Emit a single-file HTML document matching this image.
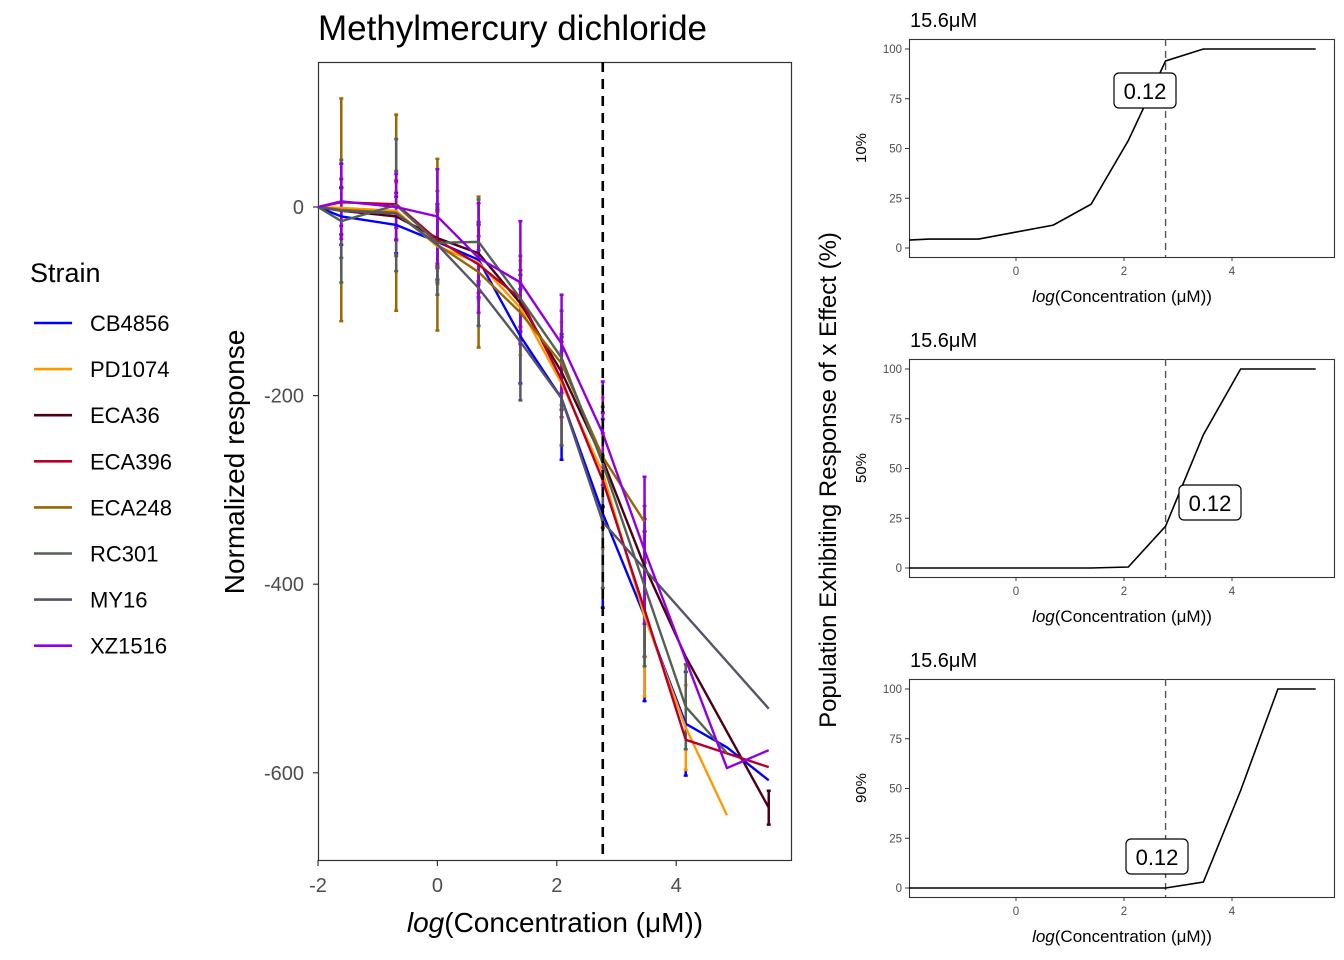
<!DOCTYPE html>
<html><head><meta charset="utf-8">
<style>
body{margin:0;background:#fff;}
svg{display:block;font-family:"Liberation Sans",Arial,sans-serif;}
</style></head>
<body>
<svg id="chart" width="1344" height="960" viewBox="0 0 1344 960">
<rect width="1344" height="960" fill="#fff"/>
<text x="318" y="40" font-size="35">Methylmercury dichloride</text>
<g id="main"></g>
<g id="legend"></g>
<g id="side"></g>
<text transform="translate(836,480) rotate(-90)" text-anchor="middle" font-size="24">Population Exhibiting Response of x Effect (%)</text>
</svg>
<script>
const NS="http://www.w3.org/2000/svg";
// main chart data
const concLog=[-2,-1.61,-0.69,0,0.69,1.39,2.08,2.77,3.47,4.16,4.85,5.55];
const strains=["CB4856","PD1074","ECA36","ECA396","ECA248","RC301","MY16","XZ1516"];
const colors=["#0000ff","#ff9900","#4d0013","#b5002b","#996600","#536155","#555566","#9000e0"];
const valCB4856=[0,-10,-19,-37,-56,-137,-203,-325,-434,-548,-573,-608];
const valPD1074=[0,-1,-4,-42,-59,-107,-187,-282,-434,-552,-645,null];
const valECA36=[0,-4,-10,-33,-49,-102,-175,-268,-381,-477,null,-637];
const valECA396=[0,5,3,-35,-61,-97,-183,-290,-427,-565,null,-594];
const valECA248=[0,-3,-6,-40,-69,-112,-166,-265,-334,null,null,null];
const valRC301=[0,-15,2,-38,-37,-97,-160,-272,-402,-530,-579,null];
const valMY16=[0,-4,-7,-40,-86,-143,-203,-334,null,null,null,-532];
const valXZ1516=[0,6,0,-10,-54,-80,-145,-240,-364,-480,-595,-576];
const sdCB4856=[0,30,30,40,40,50,65,100,90,55,0,0];
const sdPD1074=[0,30,30,40,40,50,65,80,85,45,0,0];
const sdECA36=[0,25,25,30,30,30,40,50,50,0,0,18];
const sdECA248=[0,118,104,91,80,0,0,0,0,0,0,0];
const sdRC301=[0,65,70,55,45,45,50,60,85,45,0,0];
const sdMY16=[0,50,45,40,40,62,50,70,0,0,0,0];
const sdXZ1516=[0,40,35,50,58,65,52,55,78,0,0,0];
const sdECA396=[0,25,25,30,30,30,40,50,50,0,0,0];
const allVals=[valCB4856,valPD1074,valECA36,valECA396,valECA248,valRC301,valMY16,valXZ1516];
const allSd=[sdCB4856,sdPD1074,sdECA36,sdECA396,sdECA248,sdRC301,sdMY16,sdXZ1516];
const yTicks=[0,-200,-400,-600];
const xTicks=[-2,0,2,4];
const vline=2.77;
// side panels data
const sideX=[-1.98,-1.61,-0.69,0,0.69,1.39,2.08,2.77,3.47,4.16,4.85,5.55];
const p10=[4,4.5,4.5,8,11.5,22,54,94,100,100,100,100];
const p50=[0,0,0,0,0,0,0.5,21,67,100,100,100];
const p90=[0,0,0,0,0,0,0,0,3,49,100,100];
const sideLabels=["10%","50%","90%"];
const sideTicksY=[0,25,50,75,100];
const sideTicksX=[0,2,4];
const sideAnnot=["0.12","0.12","0.12"];

function el(t,a,p){const e=document.createElementNS(NS,t);for(const k in a)e.setAttribute(k,a[k]);p.appendChild(e);return e;}
const main=document.getElementById('main');
const xS=v=>318+(v+2)*59.7, yS=v=>207-v*0.943;
let r=el('rect',{x:318.5,y:62.5,width:473,height:798,fill:'none',stroke:'#333','stroke-width':1.2},main);


yTicks.forEach(t=>{
 const y=yS(t);
 let l=el('line',{x1:313,x2:318,y1:y,y2:y,stroke:'#333','stroke-width':1.2},main);
 
 
 let tx=el('text',{x:304,y:y+7,'text-anchor':'end','font-size':20,fill:'#4d4d4d'},main);tx.textContent=t;
 
 
});
xTicks.forEach(t=>{
 const x=xS(t);
 let l=el('line',{x1:x,x2:x,y1:860,y2:866,stroke:'#333','stroke-width':1.2},main);
 
 
 let tx=el('text',{x:x,y:892,'text-anchor':'middle','font-size':20,fill:'#4d4d4d'},main);tx.textContent=t;
 
 
});
let xt=el('text',{x:555,y:932,'text-anchor':'middle','font-size':28},main);
xt.innerHTML='<tspan font-style="italic">log</tspan>(Concentration (μM))';


let yt=el('text',{transform:'translate(244,462) rotate(-90)','text-anchor':'middle','font-size':28},main);yt.textContent='Normalized response';


// error bars
allVals.forEach((vals,s)=>{
 vals.forEach((v,i)=>{
  const sd=allSd[s][i]; if(v===null||!sd) return;
  const x=xS(concLog[i]);
  let e=el('path',{d:`M${x-2},${yS(v+sd)}H${x+2}M${x},${yS(v+sd)}V${yS(v-sd)}M${x-2},${yS(v-sd)}H${x+2}`,stroke:colors[s],'stroke-width':2.5,fill:'none'},main);
  
  
 });
});
allVals.forEach((vals,s)=>{
 let d='';vals.forEach((v,i)=>{if(v===null)return;d+=(d?'L':'M')+xS(concLog[i])+','+yS(v);});
 let p=el('path',{d:d,stroke:colors[s],'stroke-width':2.4,fill:'none'},main);
 
 
});
let vl=el('line',{x1:xS(vline),x2:xS(vline),y1:62,y2:860,stroke:'#000','stroke-width':2.6,'stroke-dasharray':'10,7'},main);


// legend
const lg=document.getElementById('legend');
let lt=el('text',{x:30,y:282,'font-size':27},lg);lt.textContent='Strain';


strains.forEach((s,i)=>{
 const y=323+i*46.1;
 let g=el('g',{},lg);
 
 
 el('line',{x1:34,x2:72,y1:y,y2:y,stroke:colors[i],'stroke-width':2.6},g);
 let t=el('text',{x:90,y:y+8,'font-size':22},g);t.textContent=s;
});
// side panels
const side=document.getElementById('side');
const pdata=[p10,p50,p90];
const annPos=[[1145,91],[1210,503],[1157,857]];
pdata.forEach((vals,k)=>{
 const top=39+k*320, bot=top+218;
 const y0=248+k*320, sy=1.99;
 const sX=v=>1016+v*54, sY=v=>y0-v*sy;
 let g=el('g',{},side);
 
 
 let tt=el('text',{x:910,y:top-12,'font-size':20},g);tt.textContent='15.6μM';
 
 
 el('rect',{x:909.5,y:top+0.5,width:425,height:218,fill:'none',stroke:'#333','stroke-width':1.1},g);
 sideTicksY.forEach(t=>{
  el('line',{x1:905,x2:909,y1:sY(t),y2:sY(t),stroke:'#333'},g);
  let tx=el('text',{x:902,y:sY(t)+4,'text-anchor':'end','font-size':11.5,fill:'#4d4d4d'},g);tx.textContent=t;
  
  
 });
 sideTicksX.forEach(t=>{
  el('line',{x1:sX(t),x2:sX(t),y1:bot,y2:bot+4,stroke:'#333'},g);
  let tx=el('text',{x:sX(t),y:bot+18,'text-anchor':'middle','font-size':11.5,fill:'#4d4d4d'},g);tx.textContent=t;
  
  
 });
 let xl=el('text',{x:1122,y:bot+45,'text-anchor':'middle','font-size':17},g);
 xl.innerHTML='<tspan font-style="italic">log</tspan>(Concentration (μM))';
 
 
 let yl=el('text',{transform:`translate(866,${(top+bot)/2}) rotate(-90)`,'text-anchor':'middle','font-size':15},g);yl.textContent=sideLabels[k];
 
 
 el('line',{x1:sX(vline),x2:sX(vline),y1:top,y2:bot,stroke:'#555','stroke-width':1.4,'stroke-dasharray':'7,5'},g);
 let d='';vals.forEach((v,i)=>{d+=(i?'L':'M')+sX(sideX[i])+','+sY(v);});
 let p=el('path',{d:d,stroke:'#000','stroke-width':1.6,fill:'none'},g);
 
 
 const [ax,ay]=annPos[k];
 el('rect',{x:ax-31,y:ay-18,width:62,height:35,rx:5,fill:'#fff',stroke:'#000','stroke-width':1.2},g);
 let at=el('text',{x:ax,y:ay+8,'text-anchor':'middle','font-size':22},g);at.textContent=sideAnnot[k];
 
 
});
</script>
</body></html>
